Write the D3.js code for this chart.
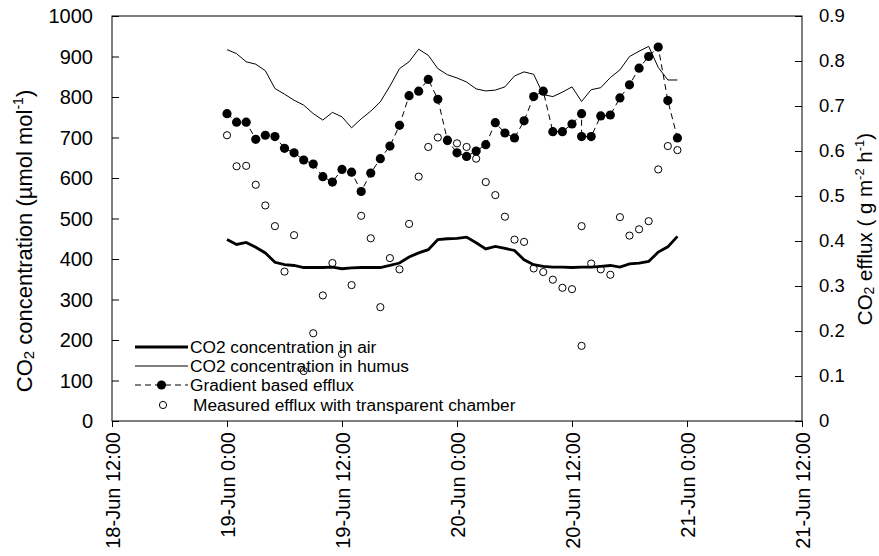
<!DOCTYPE html>
<html>
<head>
<meta charset="utf-8">
<script src="https://cdn.jsdelivr.net/npm/d3@7"></script>
<style>
  html, body { margin: 0; padding: 0; background: #fff; }
  svg { display: block; font-family: "Liberation Sans", Arial, sans-serif; }
</style>
</head>
<body>
<svg id="chart" width="879" height="556"></svg>
<script>
// Hours after 19-Jun 0:00 for the hourly CO2 concentration records
const concHours = [0,1,2,3,4,5,6,7,8,9,10,11,12,13,14,15,16,17,18,19,20,21,22,23,
                   24,25,26,27,28,29,30,31,32,33,34,35,36,37,38,39,40,41,42,43,44,45,46,47];
// CO2 concentration in air (µmol mol-1)
const airConc = [448,436,441,429,415,392,386,384,379,379,379,380,376,378,379,379,379,384,390,405,415,423,448,450,
                 451,454,440,425,431,426,421,398,386,382,380,380,379,380,380,382,384,380,388,390,394,417,430,456];
// CO2 concentration in humus (µmol mol-1)
const humusConc = [917,907,887,881,865,821,807,792,780,759,743,762,751,724,746,765,788,827,870,887,918,903,870,855,
                   847,837,820,815,817,825,852,862,856,806,801,812,825,789,818,823,848,867,900,913,925,873,842,842];

// Hours after 19-Jun 0:00 for the efflux records (hour 37 was logged twice)
const effluxHours = [0,1,2,3,4,5,6,7,8,9,10,11,12,13,14,15,16,17,18,19,20,21,22,23,
                     24,25,26,27,28,29,30,31,32,33,34,35,36,37,37,38,39,40,41,42,43,44,45,46,47];
// Gradient based efflux (g m-2 h-1)
const gradientEfflux = [0.683,0.664,0.664,0.626,0.635,0.632,0.606,0.596,0.580,0.571,0.543,0.531,0.559,0.553,0.510,0.551,
                        0.583,0.611,0.657,0.723,0.733,0.759,0.715,0.624,0.596,0.588,0.600,0.614,0.663,0.640,0.629,0.667,
                        0.721,0.733,0.643,0.643,0.660,0.683,0.632,0.632,0.678,0.680,0.718,0.747,0.784,0.810,0.831,0.712,0.629];
// Measured efflux with transparent chamber (g m-2 h-1)
const measuredEfflux = [0.635,0.566,0.567,0.525,0.479,0.433,0.332,0.413,0.111,0.195,0.279,0.351,0.149,0.302,0.456,0.406,
                        0.253,0.362,0.337,0.438,0.543,0.609,0.630,0.622,0.617,0.609,0.583,0.531,0.502,0.454,0.403,0.398,
                        0.339,0.331,0.314,0.296,0.293,0.433,0.167,0.350,0.337,0.325,0.453,0.412,0.426,0.444,0.559,0.611,0.602];

const leftTicks = [0,100,200,300,400,500,600,700,800,900,1000];
const rightTicks = [0,0.1,0.2,0.3,0.4,0.5,0.6,0.7,0.8,0.9];
const legendLabels = ["CO2 concentration in air","CO2 concentration in humus","Gradient based efflux","Measured efflux with transparent chamber"];

const start = new Date(2008, 5, 19, 0, 0);
const toDate = h => d3.timeHour.offset(start, h);

const svg = d3.select("#chart");
const m = { left: 112, right: 802, top: 16, bottom: 421 };

const x = d3.scaleTime()
  .domain([new Date(2008, 5, 18, 12), new Date(2008, 5, 21, 12)])
  .range([m.left, m.right]);
const yL = d3.scaleLinear().domain([0, 1000]).range([m.bottom, m.top]);
const yR = d3.scaleLinear().domain([0, 0.9]).range([m.bottom, m.top]);

// plot frame
svg.append("rect")
  .attr("x", m.left).attr("y", m.top)
  .attr("width", m.right - m.left).attr("height", m.bottom - m.top)
  .attr("fill", "none").attr("stroke", "#000").attr("stroke-width", 1);

// left axis (ticks inward)
const gL = svg.append("g").attr("transform", `translate(${m.left},0)`)
  .call(d3.axisRight(yL).tickValues(leftTicks).tickSize(7));
gL.select(".domain").remove();
gL.selectAll("text").remove();
svg.append("g").selectAll("text").data(leftTicks).join("text")
  .attr("x", 93).attr("y", d => yL(d)).attr("dy", "0.35em")
  .attr("text-anchor", "end").attr("font-size", 20).text(d => d);

// right axis (ticks inward)
const gR = svg.append("g").attr("transform", `translate(${m.right},0)`)
  .call(d3.axisLeft(yR).tickValues(rightTicks).tickSize(7));
gR.select(".domain").remove();
gR.selectAll("text").remove();
svg.append("g").selectAll("text").data(rightTicks).join("text")
  .attr("x", 819).attr("y", d => yR(d)).attr("dy", "0.35em")
  .attr("text-anchor", "start").attr("font-size", 18.5).text(d => d3.format("")(d));

// bottom time axis
const gX = svg.append("g").attr("transform", `translate(0,${m.bottom})`)
  .call(d3.axisBottom(x).ticks(d3.timeHour.every(12)).tickSize(6).tickFormat(d3.timeFormat("%-d-%b %-H:%M")));
gX.select(".domain").remove();
gX.selectAll("text")
  .attr("font-size", 20).attr("font-family", "Liberation Sans, Arial, sans-serif")
  .attr("fill", "#000")
  .attr("text-anchor", "end")
  .attr("transform", "rotate(-90)")
  .attr("x", -11).attr("y", 0).attr("dy", "0.36em");
svg.selectAll(".tick line").attr("stroke", "#000");

// axis titles
const tL = svg.append("text").attr("transform", "translate(32,241) rotate(-90)")
  .attr("text-anchor", "middle").attr("font-size", 22);
tL.append("tspan").text("CO");
tL.append("tspan").attr("font-size", 15).attr("dy", 2).text("2");
tL.append("tspan").attr("dy", -2).text(" concentration (µmol mol");
tL.append("tspan").attr("font-size", 14).attr("dy", -9).text("-1");
tL.append("tspan").attr("dy", 9).text(")");

const tR = svg.append("text").attr("transform", "translate(872,229) rotate(-90)")
  .attr("text-anchor", "middle").attr("font-size", 20.5);
tR.append("tspan").text("CO");
tR.append("tspan").attr("font-size", 14).attr("dy", 2).text("2");
tR.append("tspan").attr("dy", -2).text(" efflux ( g m");
tR.append("tspan").attr("font-size", 13).attr("dy", -8).text("-2");
tR.append("tspan").attr("dy", 8).text(" h");
tR.append("tspan").attr("font-size", 13).attr("dy", -8).text("-1");
tR.append("tspan").attr("dy", 8).text(")");

// series
const lineL = d3.line().x(d => x(toDate(d[0]))).y(d => yL(d[1]));
const lineR = d3.line().x(d => x(toDate(d[0]))).y(d => yR(d[1]));

svg.append("path").datum(concHours.map((h, i) => [h, humusConc[i]]))
  .attr("d", lineL).attr("fill", "none").attr("stroke", "#000").attr("stroke-width", 1);
svg.append("path").datum(concHours.map((h, i) => [h, airConc[i]]))
  .attr("d", lineL).attr("fill", "none").attr("stroke", "#000").attr("stroke-width", 2.8);

const grad = effluxHours.map((h, i) => [h, gradientEfflux[i]]);
svg.append("path").datum(grad)
  .attr("d", lineR).attr("fill", "none").attr("stroke", "#000").attr("stroke-width", 1)
  .attr("stroke-dasharray", "6,4");
svg.append("g").selectAll("circle").data(grad).join("circle")
  .attr("cx", d => x(toDate(d[0]))).attr("cy", d => yR(d[1])).attr("r", 4.6).attr("fill", "#000");

const meas = effluxHours.map((h, i) => [h, measuredEfflux[i]]);
svg.append("g").selectAll("circle").data(meas).join("circle")
  .attr("cx", d => x(toDate(d[0]))).attr("cy", d => yR(d[1])).attr("r", 3.6)
  .attr("fill", "none").attr("stroke", "#000").attr("stroke-width", 1);

// legend
const lg = svg.append("g").attr("font-size", 17.3);
const rows = [347, 366, 385, 405];
lg.append("line").attr("x1", 135).attr("x2", 188).attr("y1", rows[0]).attr("y2", rows[0]).attr("stroke", "#000").attr("stroke-width", 2.8);
lg.append("line").attr("x1", 135).attr("x2", 188).attr("y1", rows[1]).attr("y2", rows[1]).attr("stroke", "#000").attr("stroke-width", 1);
lg.append("line").attr("x1", 135).attr("x2", 188).attr("y1", rows[2]).attr("y2", rows[2]).attr("stroke", "#000").attr("stroke-width", 1).attr("stroke-dasharray", "6,4");
lg.append("circle").attr("cx", 161.5).attr("cy", rows[2]).attr("r", 4.6).attr("fill", "#000");
lg.append("circle").attr("cx", 163).attr("cy", rows[3]).attr("r", 3.6).attr("fill", "none").attr("stroke", "#000");
lg.selectAll("text").data(legendLabels).join("text")
  .attr("x", (d, i) => i === 3 ? 193 : 190).attr("y", (d, i) => rows[i]).attr("dy", "0.35em")
  .text(d => d);
</script>
</body>
</html>
